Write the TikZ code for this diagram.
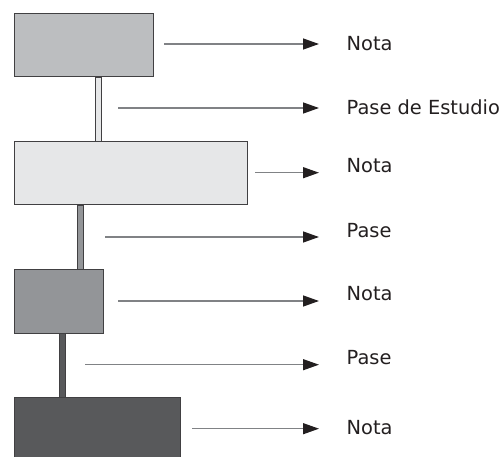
\documentclass[tikz,border=0pt]{standalone}
\usepackage{fontspec}
\setmainfont{DejaVu Sans}
\usetikzlibrary{arrows.meta}

% 颜色
\definecolor{boxA}{HTML}{BCBEC0}
\definecolor{boxB}{HTML}{E6E7E8}
\definecolor{boxC}{HTML}{939598}
\definecolor{boxD}{HTML}{58595B}
\definecolor{edge}{HTML}{414042}
\definecolor{wire}{HTML}{808285}
\definecolor{ink}{HTML}{231F20}

\begin{document}
\begin{tikzpicture}[x=1pt, y=-1pt,
    blk/.style={draw=edge, line width=1pt, anchor=north west, inner sep=0pt, minimum height=63.5pt},
    lnk/.style={draw=edge, line width=0.8pt},
    arr/.style={draw=wire, line width=1.3pt, -{Triangle[length=16pt, width=11pt, color=ink]}},
    lbl/.style={anchor=base west, inner sep=0pt, text=ink, font=\fontsize{19.4}{23}\selectfont}]
    \useasboundingbox (0,0) rectangle (503,457);

    % 定义输入:箭头终点与文字的横坐标
    \def\xTip{319}  \def\xTxt{346.5}

    % 左侧方块
    \node[blk, fill=boxA, minimum width=138.7pt] (b1) at (14.3,13) {};
    \node[blk, fill=boxB, minimum width=232.4pt] (b2) at (14.3,141) {};
    \node[blk, fill=boxC, minimum width=89pt]    (b3) at (14.3,269) {};
    \node[blk, fill=boxD, minimum width=165.7pt, minimum height=72pt] (b4) at (14.3,397.3) {};

    % 方块之间的竖条
    \draw[lnk, fill=boxB] ([xshift=81.4pt]b1.south west) rectangle ([xshift=86.7pt]b2.north west);
    \draw[lnk, fill=boxC] ([xshift=63pt]b2.south west) rectangle ([xshift=69pt]b3.north west);
    \draw[lnk, fill=boxD] ([xshift=45pt]b3.south west) rectangle ([xshift=51pt]b4.north west);

    % 右侧文字
    \node[lbl] (t1) at (\xTxt,50.7)  {Nota};
    \node[lbl] (t2) at (\xTxt,115)   {Pase de Estudio};
    \node[lbl] (t3) at (\xTxt,172.7) {Nota};
    \node[lbl] (t4) at (\xTxt,237)   {Pase};
    \node[lbl] (t5) at (\xTxt,300.5) {Nota};
    \node[lbl] (t6) at (\xTxt,364.5) {Pase};
    \node[lbl] (t7) at (\xTxt,434.3) {Nota};

    % 箭头起点和终点
    \coordinate (tip) at (\xTip,0);
    \coordinate (s1) at (164,44);
    \coordinate (s2) at (118,108);
    \coordinate (s3) at (255,172.7);
    \coordinate (s4) at (105,237);
    \coordinate (s5) at (118,301);
    \coordinate (s6) at (85,364.7);
    \coordinate (s7) at (192,428.7);
    \foreach \i in {1,...,7}
        \draw[arr] (s\i) -- (s\i -| tip);
\end{tikzpicture}
\end{document}
